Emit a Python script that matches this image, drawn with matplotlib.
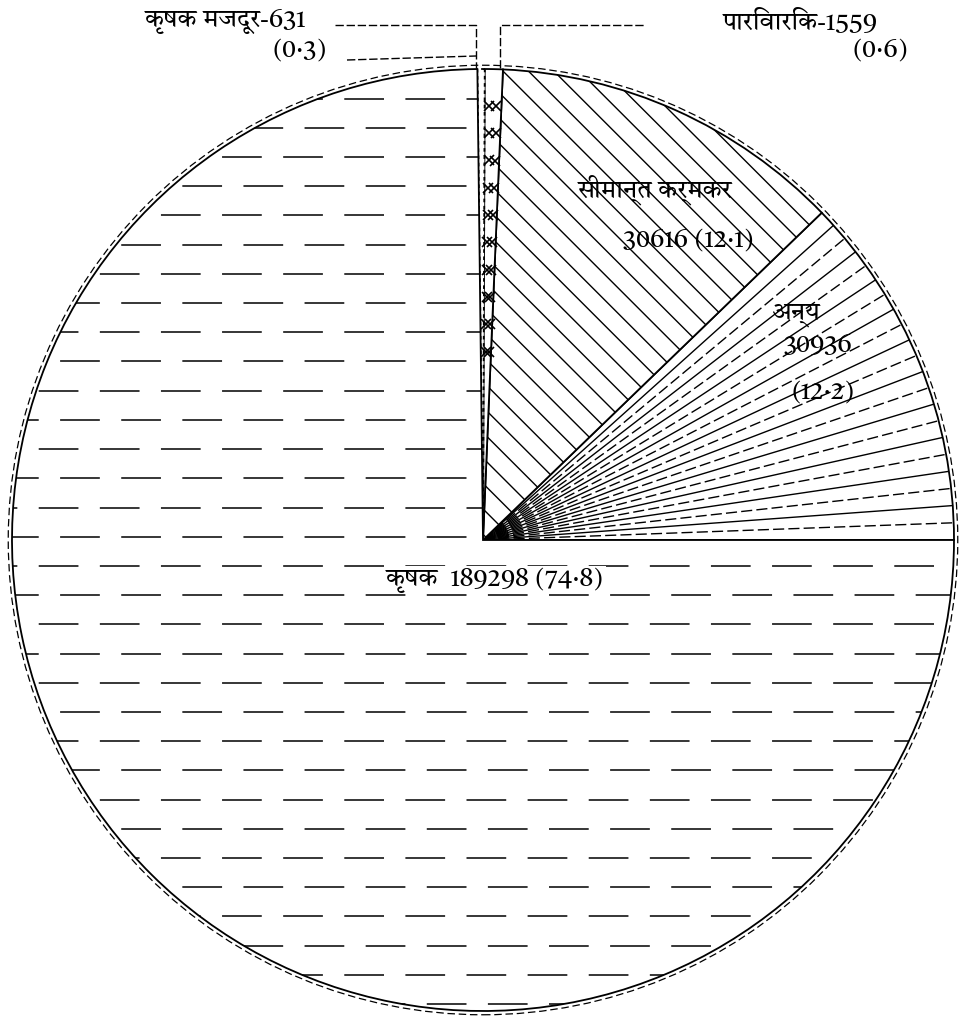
import numpy as np
import matplotlib
matplotlib.use("Agg")
import matplotlib.pyplot as plt
from matplotlib import font_manager
from matplotlib.ft2font import FT2Font
from matplotlib.patches import Circle

# ---- data ----
categories = ["अन्य", "सीमान्त कर्मकर", "पारिवारिक", "कृषक मजदूर", "कृषक"]
counts = [30936, 30616, 1559, 631, 189298]
percents = ["12·2", "12·1", "0·6", "0·3", "74·8"]

# ---- find a font with Devanagari (prefer proportional sans) ----
cands = []
for f in font_manager.fontManager.ttflist:
    try:
        cm = FT2Font(f.fname).get_charmap()
        if ord("क") in cm:
            cands.append(f.name)
    except Exception:
        pass


def score(n):
    s = 0
    if "Mono" in n:
        s += 10
    if "Serif" in n:
        s += 3
    if "Sans" in n:
        s -= 2
    if "Devanagari" in n:
        s -= 3
    return s


cands = sorted(set(cands), key=score)
fams = cands[:1] + ["DejaVu Sans"]
plt.rcParams["font.family"] = fams

W, H = 961, 1024
fig = plt.figure(figsize=(W / 100, H / 100), dpi=100)
cx, cy, R = 483, 540, 471
ax = fig.add_axes([(cx - R) / W, (H - cy - R) / H, 2 * R / W, 2 * R / H])


def P(px, py):
    return ((px - cx) / R, (cy - py) / R)


wedges, _ = ax.pie(counts, startangle=0, counterclock=True, radius=1,
                   colors=["white"] * len(counts),
                   wedgeprops=dict(edgecolor="black", linewidth=1.3))
ax.set_xlim(-1, 1)
ax.set_ylim(-1, 1)
ax.axis("off")
for w in wedges:
    w.set_clip_on(False)
wedges[3].set_linestyle((0, (2, 2)))

ax.add_patch(Circle((0, 0), 1.008, fill=False, ec="black", lw=0.9,
                    ls=(0, (6, 3)), clip_on=False))

# कृषक: dashed horizontal rows
wk = wedges[4]
for i, y in enumerate(np.arange(-0.985, 1.0, 0.062)):
    ln, = ax.plot([-1.05, 1.05], [y, y], color="black", lw=1.1,
                  ls=(14 if i % 2 else 0, (26, 14)))
    ln.set_clip_path(wk)

# सीमान्त: diagonal lines
ws = wedges[1]
for c in np.arange(-1.5, 1.6, 0.054):
    ln, = ax.plot([-1.2, 1.5], [c + 1.2, c - 1.5], color="black", lw=1.0)
    ln.set_clip_path(ws)

# अन्य: radial lines
wa = wedges[0]
for i, t in enumerate(np.linspace(wa.theta1, wa.theta2, 22)[1:-1]):
    a = np.deg2rad(t)
    ln, = ax.plot([0, np.cos(a)], [0, np.sin(a)], color="black", lw=1.0,
                  ls="-" if i % 2 else (0, (8, 3)))
    ln.set_clip_path(wa)

# पारिवारिक: x marks
wp = wedges[2]
for frac in (0.3, 0.72):
    a = np.deg2rad(wp.theta1 + frac * (wp.theta2 - wp.theta1))
    rr = np.arange(0.4, 0.98, 0.058)
    ax.plot(rr * np.cos(a), rr * np.sin(a), ls="none", marker="x",
            color="black", ms=7, mew=1.2, clip_on=False)

fs = 18
tk = dict(fontsize=fs, color="black", ha="center", va="center", clip_on=False)

# leader lines
lk = dict(color="black", lw=1.0, clip_on=False)
ax.plot(*zip(P(335, 25), P(476, 25), P(476, 68)), ls=(0, (6, 2)), **lk)
ax.plot(*zip(P(500, 68), P(500, 25), P(645, 25)), ls=(0, (6, 2)), **lk)
ax.plot(*zip(P(347, 60), P(476, 56)), ls=(0, (6, 2)), **lk)

ax.text(*P(225, 22), f"{categories[3]}-{counts[3]}", **tk)
ax.text(*P(300, 50), f"({percents[3]})", **tk)
ax.text(*P(800, 22), f"{categories[2]}-{counts[2]}", **tk)
ax.text(*P(880, 50), f"({percents[2]})", **tk)
ax.text(*P(655, 190), categories[1], **tk)
ax.text(*P(688, 240), f"{counts[1]} ({percents[1]})", **tk)
ax.text(*P(795, 315), categories[0], **tk)
ax.text(*P(818, 345), f"{counts[0]}", **tk)
ax.text(*P(823, 392), f"({percents[0]})", **tk)
ax.text(*P(495, 580), f"{categories[4]}  {counts[4]} ({percents[4]})",
        bbox=dict(fc="white", ec="none", pad=1), **tk)

fig.savefig("out.png", dpi=100)
